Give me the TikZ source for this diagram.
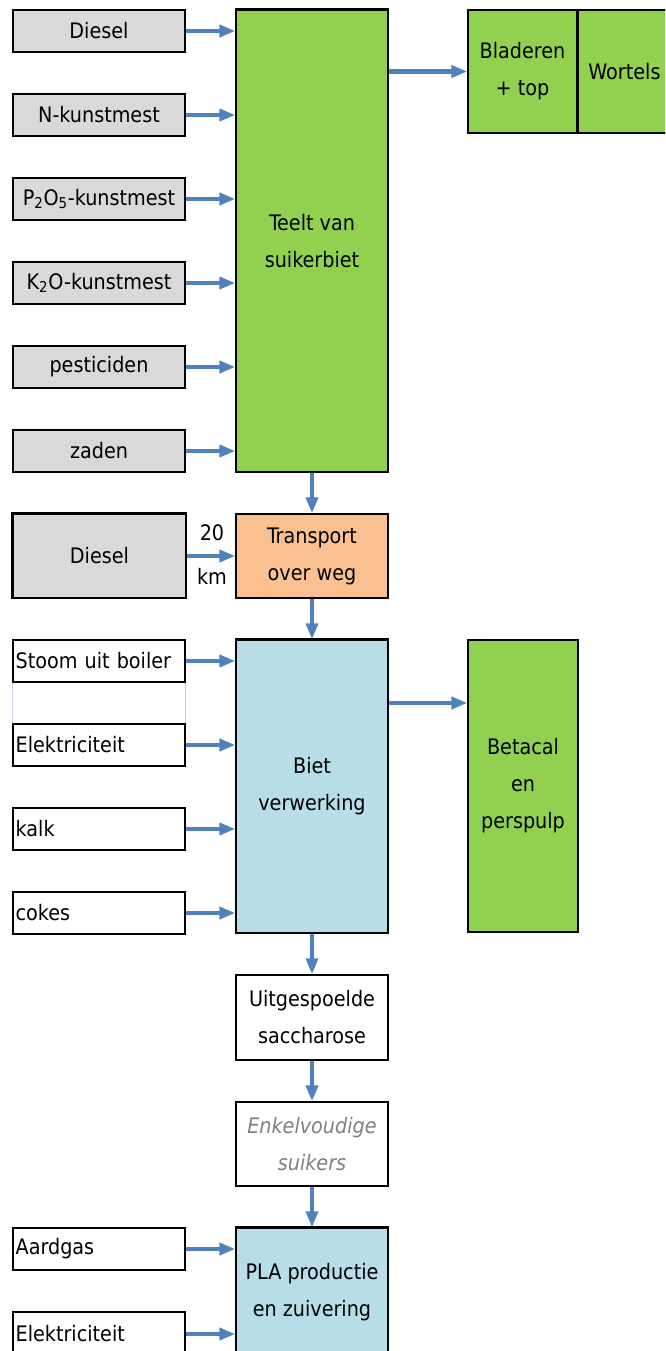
\documentclass[tikz,border=0pt]{standalone}
\usepackage{fontspec}
\setmainfont{DejaVu Sans Condensed}
\usetikzlibrary{arrows.meta}
\definecolor{boxgray}{HTML}{D9D9D9}
\definecolor{boxgreen}{HTML}{92D050}
\definecolor{boxorange}{HTML}{FAC090}
\definecolor{boxblue}{HTML}{B7DDE8}
\definecolor{arrblue}{HTML}{4F81BD}
\definecolor{faint}{HTML}{C8D0E0}
\begin{document}
\begin{tikzpicture}[x=0.75pt,y=-0.75pt,
  every node/.style={font=\fontsize{16}{27.75}\selectfont, inner sep=0pt},
  box/.style={draw=black, line width=1.1pt, align=center},
  inbox/.style={box, fill=boxgray, minimum width=129pt, minimum height=31.5pt},
  wbox/.style={box, fill=white, minimum width=129pt, minimum height=31.5pt, text width=125pt, align=left},
  maincol/.style={box, minimum width=114pt},
  arr/.style={draw=arrblue, line width=3.6pt, -{Triangle[length=12pt,width=9pt]}},
  thick edge/.style={line width=2.4pt}
]
\useasboundingbox (0,0) rectangle (665,1351);
\clip (0,0) rectangle (665,1351);

% main column
\node[maincol, fill=boxgreen, minimum height=346.5pt] (teelt) at (312,241) {Teelt van\\suikerbiet};
\node[maincol, fill=boxorange, minimum height=63pt] (trans) at (312,556) {Transport\\over weg};
\node[maincol, fill=boxblue, minimum height=219.75pt] (biet) at (312,786.5) {Biet\\verwerking};
\node[maincol, fill=white, minimum height=63.75pt] (uit) at (312,1017.5) {Uitgespoelde\\saccharose};
\node[maincol, fill=white, minimum height=63pt, text=gray, font=\fontsize{16}{27.75}\selectfont\itshape] (enk) at (312,1144) {Enkelvoudige\\suikers};
\node[maincol, fill=boxblue, minimum height=96pt] (pla) at (312,1292) {PLA productie\\en zuivering};

% right outputs
\node[box, fill=boxgreen, minimum width=81.75pt, minimum height=92.25pt] (blad) at (522.5,71.5) {Bladeren\\+ top};
\node[box, fill=boxgreen, minimum width=71.25pt, minimum height=92.25pt] (wort) at (624.5,71.5) {Wortels};
\node[box, fill=boxgreen, minimum width=82.5pt, minimum height=219pt] (beta) at (523,786) {Betacal\\en\\perspulp};

% inputs teelt
\node[inbox] (d1) at (99,31) {Diesel};
\node[inbox] (nk) at (99,115) {N-kunstmest};
\node[inbox] (pk) at (99,199) {P\textsubscript{2}O\textsubscript{5}-kunstmest};
\node[inbox] (kk) at (99,283) {K\textsubscript{2}O-kunstmest};
\node[inbox] (pest) at (99,367) {pesticiden};
\node[inbox] (zaden) at (99,451) {zaden};

% transport input
\node[box, fill=boxgray, minimum width=129.75pt, minimum height=63pt] (d2) at (99.5,556) {Diesel};
\node (n20) at (212,533) {20};
\node (nkm) at (212,576) {km};

% biet inputs
\node[wbox] (stoom) at (99,661) {Stoom uit boiler};
\node[wbox] (el1) at (99,745) {Elektriciteit};
\node[wbox] (kalk) at (99,829) {kalk};
\node[wbox] (cokes) at (99,913) {cokes};
\draw[faint, line width=0.6pt] (stoom.south west) -- (el1.north west);
\draw[faint, line width=0.6pt] (stoom.south east) -- (el1.north east);

% PLA inputs
\node[wbox] (gas) at (99,1249) {Aardgas};
\node[wbox, minimum height=33pt] (el2) at (99,1334) {Elektriciteit};

% thick edges
\draw[thick edge] (teelt.north west) -- (teelt.north east);
\draw[thick edge] (biet.north west) -- (biet.north east);
\draw[thick edge] (pla.north west) -- (pla.north east);
\draw[thick edge] (d2.south west) -- (d2.north west) -- (d2.north east);
\draw[thick edge] (blad.north east) -- (blad.south east);

% arrows into teelt
\foreach \n in {d1,nk,pk,kk,pest,zaden}
  \draw[arr] (\n.east) -- (\n.east -| teelt.west);
\draw[arr] (teelt.east |- blad.west) -- (blad.west);
\draw[arr] (teelt.south) -- (trans.north);
\draw[arr] (d2.east) -- (trans.west);
\draw[arr] (trans.south) -- (biet.north);
\foreach \n in {stoom,el1,kalk,cokes}
  \draw[arr] (\n.east) -- (\n.east -| biet.west);
\draw[arr] (biet.east |- 0,703) -- (beta.west |- 0,703);
\draw[arr] (biet.south) -- (uit.north);
\draw[arr] (uit.south) -- (enk.north);
\draw[arr] (enk.south) -- (pla.north);
\draw[arr] (gas.east) -- (gas.east -| pla.west);
\draw[arr] (el2.east) -- (el2.east -| pla.west);
\end{tikzpicture}
\end{document}
